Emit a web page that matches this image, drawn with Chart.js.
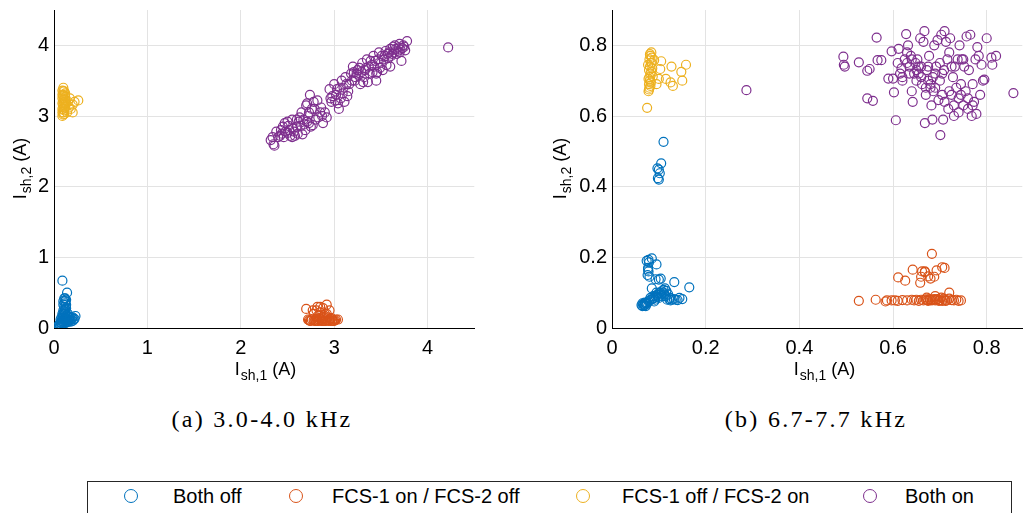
<!DOCTYPE html>
<html>
<head>
<meta charset="utf-8">
<script src="https://cdn.jsdelivr.net/npm/chart.js@4/dist/chart.umd.min.js"></script>
<style>
  html, body { margin: 0; padding: 0; background: #fff; }
  #page { position: relative; width: 1024px; height: 513px; overflow: hidden; font-family: "Liberation Sans", Arial, sans-serif; }
  canvas { position: absolute; top: 0; }
  #chartA { left: 0; }
  #chartB { left: 540px; }
  .caption { position: absolute; top: 406px; font-family: "Liberation Serif", serif; font-size: 24px; letter-spacing: 2.3px; color: #000; transform: translateX(-50%); white-space: nowrap; }
  #legend { position: absolute; left: 87px; top: 481px; width: 925px; height: 40px; border: 1px solid #262626; box-sizing: border-box; }
  .mark { position: absolute; top: 7px; width: 14px; height: 14px; box-sizing: border-box; border-radius: 50%; border: 1.3px solid; }
  .label { position: absolute; top: 2px; font-size: 20px; line-height: 24px; color: #000; white-space: nowrap; }
</style>
</head>
<body>
<div id="page">
  <canvas id="chartA" width="480" height="400"></canvas>
  <canvas id="chartB" width="488" height="400"></canvas>
  <div class="caption" style="left:262px">(a) 3.0-4.0 kHz</div>
  <div class="caption" style="left:816px">(b) 6.7-7.7 kHz</div>
  <div id="legend"></div>
</div>
<script>
  // series names and colours (MATLAB default order)
  const seriesNames = ['Both off', 'FCS-1 on / FCS-2 off', 'FCS-1 off / FCS-2 on', 'Both on'];
  const seriesColors = ['#0072BD', '#D95319', '#EDB120', '#7E2F8E'];

  // (a) 3.0-4.0 kHz, points as [I_sh1, I_sh2]
  const aBothOff = [[0.06,0.05],[0.07,0.08],[0.08,0.1],[0.09,0.05],[0.1,0.12],[0.11,0.15],[0.12,0.2],[0.1,0.25],[0.11,0.3],[0.12,0.35],
    [0.13,0.4],[0.11,0.42],[0.09,0.67],[0.14,0.5],[0.13,0.1],[0.15,0.12],[0.17,0.1],[0.2,0.15],[0.23,0.17],[0.18,0.12],
    [0.14,0.08],[0.16,0.15],[0.12,0.22],[0.1,0.18],[0.08,0.04],[0.07,0.12],[0.11,0.06],[0.13,0.28],[0.15,0.2],[0.09,0.14],
    [0.12,0.08],[0.06,0.02],[0.08,0.07],[0.1,0.09],[0.12,0.13],[0.14,0.18],[0.19,0.14],[0.21,0.12],[0.1,0.33],[0.12,0.38],
    [0.07,0.03],[0.09,0.09],[0.11,0.11],[0.13,0.14],[0.15,0.09],[0.16,0.11],[0.18,0.09],[0.2,0.1],[0.22,0.13],[0.11,0.24],
    [0.13,0.33],[0.12,0.27],[0.1,0.2],[0.08,0.15],[0.09,0.2],[0.14,0.13],[0.17,0.16],[0.05,0.04],[0.12,0.42],[0.1,0.38]];
  const aFcs1On = [[2.7,0.27],[2.72,0.12],[2.75,0.1],[2.78,0.2],[2.8,0.12],[2.82,0.3],[2.83,0.1],[2.85,0.22],[2.86,0.12],[2.88,0.28],
    [2.9,0.1],[2.92,0.33],[2.93,0.15],[2.95,0.25],[2.96,0.1],[2.98,0.12],[3.0,0.1],[3.02,0.12],[3.04,0.12],[2.76,0.12],
    [2.79,0.1],[2.84,0.14],[2.87,0.1],[2.89,0.18],[2.91,0.12],[2.94,0.1],[2.97,0.14],[2.81,0.25],[2.88,0.14],[2.74,0.1],
    [2.77,0.25],[2.9,0.2],[2.99,0.1],[2.82,0.1],[2.86,0.1],[2.93,0.11],[2.78,0.11],[2.96,0.13],[2.85,0.3],[2.92,0.2],
    [2.73,0.11],[2.8,0.1],[2.84,0.11],[2.88,0.1],[2.91,0.1],[2.95,0.11],[2.98,0.1],[3.01,0.11],[2.87,0.12],[2.83,0.18]];
  const aFcs2On = [[0.09,3.0],[0.1,3.05],[0.09,3.1],[0.1,3.15],[0.11,3.2],[0.09,3.25],[0.1,3.3],[0.11,3.35],[0.1,3.4],[0.12,3.12],
    [0.12,3.22],[0.09,3.18],[0.11,3.08],[0.1,3.28],[0.13,3.18],[0.15,3.2],[0.18,3.1],[0.2,3.05],[0.22,3.2],[0.26,3.22],
    [0.14,3.05],[0.17,3.25],[0.1,3.02],[0.12,3.32],[0.09,3.36],[0.11,3.12],[0.1,3.22],[0.12,3.27],[0.16,3.12],[0.2,3.16],
    [0.09,3.05],[0.1,3.1],[0.11,3.25],[0.09,3.3],[0.1,3.35],[0.12,3.17],[0.11,3.03],[0.1,3.18]];
  const aBothOn = [[2.32,2.66],[2.35,2.6],[2.36,2.58],[2.38,2.78],[2.42,2.72],[2.45,2.85],[2.47,2.9],[2.5,2.76],[2.52,2.8],[2.55,2.95],
    [2.48,2.78],[2.58,2.72],[2.6,2.85],[2.62,2.92],[2.65,3.05],[2.66,2.74],[2.68,2.88],[2.7,3.15],[2.72,3.0],[2.74,3.3],
    [2.75,2.85],[2.78,3.2],[2.8,2.95],[2.82,3.22],[2.85,3.05],[2.88,2.9],[2.9,3.05],[2.92,2.98],[2.44,2.75],[2.56,2.82],
    [2.64,2.86],[2.73,2.9],[2.76,3.1],[2.95,3.38],[2.97,3.2],[3.0,3.45],[3.02,3.3],[3.05,3.1],[3.07,3.25],[3.08,3.5],
    [3.1,3.4],[3.12,3.55],[3.15,3.35],[3.18,3.6],[3.2,3.7],[3.22,3.5],[3.25,3.65],[3.28,3.45],[3.3,3.75],[3.32,3.55],
    [3.35,3.8],[3.38,3.6],[3.4,3.72],[3.42,3.85],[3.45,3.5],[3.48,3.9],[3.5,3.75],[3.52,3.65],[3.55,3.92],[3.58,3.82],
    [3.6,3.95],[3.62,3.88],[3.65,4.0],[3.68,3.92],[3.7,4.02],[3.72,3.78],[3.75,3.98],[3.78,4.06],[4.22,3.97],[3.04,3.18],
    [3.14,3.28],[3.24,3.6],[3.34,3.68],[3.44,3.78],[3.54,3.85],[3.64,3.9],[3.36,3.48],[3.46,3.62],[3.56,3.72],[3.66,3.95],
    [2.98,3.28],[3.06,3.4],[3.16,3.45],[3.26,3.58],[3.7,3.9],[3.73,3.96],[2.53,2.72],[2.63,2.98],[2.86,3.12],[2.4,2.7],
    [2.34,2.7],[2.43,2.8],[2.46,2.7],[2.51,2.86],[2.57,2.78],[2.61,2.75],[2.67,2.95],[2.71,2.92],[2.77,2.87],[2.83,2.98],
    [2.87,3.0],[2.71,3.18],[2.73,3.05],[2.79,3.1],[2.96,3.25],[3.01,3.22],[3.03,3.38],[3.09,3.32],[3.11,3.2],[3.13,3.45],
    [3.19,3.5],[3.21,3.62],[3.23,3.55],[3.27,3.68],[3.29,3.62],[3.31,3.48],[3.33,3.65],[3.37,3.7],[3.39,3.78],[3.41,3.62],
    [3.43,3.7],[3.47,3.8],[3.49,3.68],[3.51,3.85],[3.53,3.8],[3.57,3.88],[3.59,3.9],[3.61,3.85],[3.63,3.98],[3.67,3.88],
    [3.69,3.97],[3.71,3.94],[3.74,4.0],[3.76,3.93],[3.6,3.7],[3.45,3.6],[2.6,2.95],[2.69,2.8],[2.5,2.92],[2.55,2.7]];

  // (b) 6.7-7.7 kHz
  const bBothOff = [[0.11,0.527],[0.105,0.466],[0.097,0.452],[0.1,0.448],[0.102,0.438],[0.098,0.424],[0.1,0.42],[0.074,0.19],[0.078,0.193],[0.085,0.197],
    [0.079,0.186],[0.077,0.17],[0.078,0.16],[0.076,0.15],[0.08,0.145],[0.095,0.18],[0.093,0.138],[0.1,0.137],[0.104,0.14],[0.085,0.112],
    [0.133,0.13],[0.165,0.115],[0.063,0.065],[0.065,0.062],[0.067,0.068],[0.07,0.065],[0.072,0.07],[0.075,0.072],[0.078,0.075],[0.08,0.078],
    [0.083,0.08],[0.086,0.082],[0.09,0.085],[0.093,0.09],[0.096,0.094],[0.1,0.098],[0.103,0.1],[0.106,0.104],[0.11,0.108],[0.113,0.112],
    [0.116,0.105],[0.12,0.095],[0.124,0.085],[0.128,0.08],[0.132,0.082],[0.136,0.08],[0.14,0.079],[0.144,0.085],[0.15,0.082],[0.118,0.08],
    [0.108,0.09],[0.1,0.085],[0.09,0.075],[0.095,0.1],[0.112,0.095],[0.125,0.078],[0.065,0.07],[0.068,0.063],[0.072,0.062],[0.077,0.165],
    [0.07,0.072],[0.074,0.068],[0.082,0.085],[0.088,0.09],[0.092,0.08],[0.098,0.088],[0.105,0.095],[0.11,0.1],[0.115,0.09],[0.122,0.082]];
  const bFcs1On = [[0.527,0.077],[0.563,0.08],[0.584,0.075],[0.587,0.078],[0.597,0.078],[0.604,0.078],[0.61,0.077],[0.62,0.079],[0.63,0.078],[0.64,0.08],
    [0.645,0.078],[0.65,0.08],[0.655,0.077],[0.66,0.08],[0.665,0.078],[0.67,0.081],[0.675,0.077],[0.68,0.079],[0.685,0.08],[0.69,0.078],
    [0.695,0.082],[0.7,0.079],[0.705,0.077],[0.71,0.08],[0.715,0.078],[0.72,0.083],[0.725,0.079],[0.73,0.078],[0.735,0.08],[0.74,0.077],
    [0.745,0.078],[0.672,0.086],[0.69,0.09],[0.703,0.086],[0.72,0.1],[0.611,0.143],[0.626,0.134],[0.642,0.165],[0.658,0.128],[0.662,0.16],
    [0.668,0.16],[0.675,0.146],[0.68,0.14],[0.683,0.21],[0.688,0.145],[0.693,0.163],[0.705,0.172],[0.71,0.17],[0.66,0.145],[0.668,0.158],
    [0.678,0.082],[0.683,0.078],[0.688,0.082],[0.698,0.077],[0.708,0.083],[0.712,0.077],[0.693,0.08],[0.673,0.079]];
  const bFcs2On = [[0.078,0.67],[0.08,0.68],[0.079,0.69],[0.081,0.7],[0.08,0.71],[0.082,0.72],[0.079,0.73],[0.081,0.74],[0.083,0.75],[0.08,0.76],
    [0.082,0.77],[0.084,0.78],[0.078,0.705],[0.083,0.695],[0.084,0.725],[0.077,0.745],[0.085,0.765],[0.086,0.735],[0.075,0.623],[0.095,0.69],
    [0.1,0.705],[0.103,0.733],[0.105,0.755],[0.115,0.705],[0.127,0.74],[0.125,0.695],[0.13,0.685],[0.148,0.725],[0.15,0.7],[0.158,0.745],
    [0.087,0.712],[0.09,0.758],[0.079,0.675],[0.082,0.685],[0.085,0.75],[0.081,0.775]];
  const bBothOn = [[0.494,0.768],[0.495,0.745],[0.497,0.74],[0.527,0.752],[0.545,0.728],[0.55,0.733],[0.545,0.65],[0.557,0.643],[0.565,0.822],[0.567,0.758],
    [0.575,0.758],[0.59,0.706],[0.6,0.706],[0.597,0.783],[0.606,0.588],[0.602,0.667],[0.61,0.75],[0.612,0.79],[0.615,0.72],[0.618,0.735],
    [0.62,0.7],[0.625,0.76],[0.628,0.832],[0.63,0.78],[0.632,0.8],[0.635,0.74],[0.638,0.77],[0.64,0.67],[0.642,0.64],[0.645,0.72],
    [0.648,0.75],[0.65,0.7],[0.652,0.76],[0.655,0.72],[0.658,0.82],[0.66,0.74],[0.662,0.69],[0.665,0.81],[0.667,0.84],[0.668,0.58],
    [0.67,0.66],[0.672,0.73],[0.675,0.7],[0.677,0.77],[0.68,0.68],[0.682,0.63],[0.684,0.59],[0.686,0.67],[0.688,0.8],[0.69,0.72],
    [0.692,0.74],[0.695,0.815],[0.697,0.645],[0.7,0.7],[0.701,0.546],[0.703,0.83],[0.705,0.66],[0.707,0.59],[0.709,0.73],[0.71,0.84],
    [0.713,0.81],[0.716,0.76],[0.718,0.62],[0.72,0.78],[0.722,0.82],[0.725,0.66],[0.728,0.71],[0.73,0.6],[0.732,0.74],[0.735,0.68],
    [0.738,0.76],[0.74,0.65],[0.742,0.8],[0.745,0.69],[0.747,0.76],[0.75,0.63],[0.752,0.74],[0.755,0.67],[0.757,0.825],[0.76,0.62],
    [0.762,0.73],[0.765,0.83],[0.768,0.6],[0.77,0.69],[0.773,0.64],[0.776,0.76],[0.778,0.606],[0.78,0.795],[0.783,0.77],[0.786,0.66],
    [0.789,0.745],[0.792,0.7],[0.795,0.703],[0.8,0.82],[0.81,0.765],[0.812,0.745],[0.82,0.77],[0.857,0.665],[0.287,0.673],[0.63,0.75],
    [0.64,0.76],[0.65,0.73],[0.66,0.71],[0.67,0.68],[0.68,0.69],[0.69,0.68],[0.7,0.75],[0.71,0.64],[0.72,0.67],[0.73,0.63],
    [0.74,0.61],[0.75,0.76],[0.76,0.65],[0.77,0.63],[0.62,0.71],[0.635,0.72],[0.655,0.74],[0.675,0.74],[0.685,0.71],[0.705,0.72],
    [0.725,0.74],[0.745,0.66]];

  // axis ranges and ticks
  const aXMax = 4.5, aYMax = 4.5, aStep = 1;
  const bXMax = 0.876, bYMax = 0.9, bStep = 0.2;

  const toXY = arr => arr.map(p => ({ x: p[0], y: p[1] }));

  function makeDatasets(groups) {
    return groups.map((g, i) => ({
      label: seriesNames[i],
      data: toXY(g),
      borderColor: seriesColors[i],
      backgroundColor: 'rgba(0,0,0,0)',
      pointStyle: 'circle',
      pointRadius: 4.5,
      pointBorderWidth: 1.2,
      pointHoverRadius: 4.5
    }));
  }

  // draws "I_sub (A)" axis titles with a real subscript
  const subTitlePlugin = {
    id: 'subTitles',
    afterDraw(chart, args, opts) {
      const ctx = chart.ctx;
      const area = chart.chartArea;
      const drawLabel = (sub) => {
        ctx.font = '18px "Liberation Sans", Arial, sans-serif';
        const wI = ctx.measureText('I').width;
        const wT = ctx.measureText(' (A)').width;
        ctx.font = '14px "Liberation Sans", Arial, sans-serif';
        const wS = ctx.measureText(sub).width;
        const total = wI + wS + wT;
        let x = -total / 2;
        ctx.fillStyle = '#000';
        ctx.textBaseline = 'alphabetic';
        ctx.textAlign = 'left';
        ctx.font = '18px "Liberation Sans", Arial, sans-serif';
        ctx.fillText('I', x, 0);
        x += wI + 1;
        ctx.font = '14px "Liberation Sans", Arial, sans-serif';
        ctx.fillText(sub, x, 5);
        x += wS;
        ctx.font = '18px "Liberation Sans", Arial, sans-serif';
        ctx.fillText(' (A)', x, 0);
      };
      ctx.save();
      ctx.translate(opts.xCenter, area.bottom + 47);
      drawLabel('sh,1');
      ctx.restore();
      ctx.save();
      ctx.translate(area.left - opts.yGap, (area.top + area.bottom) / 2);
      ctx.rotate(-Math.PI / 2);
      drawLabel('sh,2');
      ctx.restore();
    }
  };

  function makeChart(id, groups, xMax, yMax, step, yWidth, yGap, xCenter, padRight) {
    const canvas = document.getElementById(id);
    const axis = (max, horizontal) => ({
      type: 'linear',
      min: 0,
      max: max,
      border: { display: true, color: '#000', width: 1 },
      grid: { color: '#e3e3e3', lineWidth: 1, drawTicks: false },
      ticks: {
        stepSize: step,
        includeBounds: false,
        color: '#000',
        padding: horizontal ? 8 : 5,
        font: { family: '"Liberation Sans", Arial, sans-serif', size: 20 }
      },
      afterFit: s => {
        // fixed axis boxes, no extra room for label overhang
        s.paddingTop = 0; s.paddingBottom = 0; s.paddingLeft = 0; s.paddingRight = 0;
        if (horizontal) s.height = 72; else s.width = yWidth;
      }
    });
    return new Chart(canvas, {
      type: 'scatter',
      data: { datasets: makeDatasets(groups) },
      options: {
        responsive: false,
        animation: false,
        devicePixelRatio: 1,
        layout: { padding: { top: 10, right: padRight, left: 0, bottom: 0 } },
        scales: { x: axis(xMax, true), y: axis(yMax, false) },
        plugins: {
          legend: { display: false },
          tooltip: { enabled: false },
          subTitles: { xCenter: xCenter, yGap: yGap }
        }
      },
      plugins: [subTitlePlugin]
    });
  }

  makeChart('chartA', [aBothOff, aFcs1On, aFcs2On, aBothOn], aXMax, aYMax, aStep, 54, 28, 265, 1);
  makeChart('chartB', [bBothOff, bFcs1On, bFcs2On, bBothOn], bXMax, bYMax, bStep, 72, 46, 284, 0);

  // shared legend box under both panels (page x of marker centres and label starts)
  const legendEl = document.getElementById('legend');
  const markCenters = [131, 296, 583, 870];
  const labelStarts = [173, 332, 622, 905];
  seriesNames.forEach((name, i) => {
    const mark = document.createElement('div');
    mark.className = 'mark';
    mark.style.left = (markCenters[i] - 88 - 7) + 'px';
    mark.style.borderColor = seriesColors[i];
    legendEl.appendChild(mark);
    const label = document.createElement('span');
    label.className = 'label';
    label.style.left = (labelStarts[i] - 88) + 'px';
    label.innerText = name;
    legendEl.appendChild(label);
  });
</script>
</body>
</html>
